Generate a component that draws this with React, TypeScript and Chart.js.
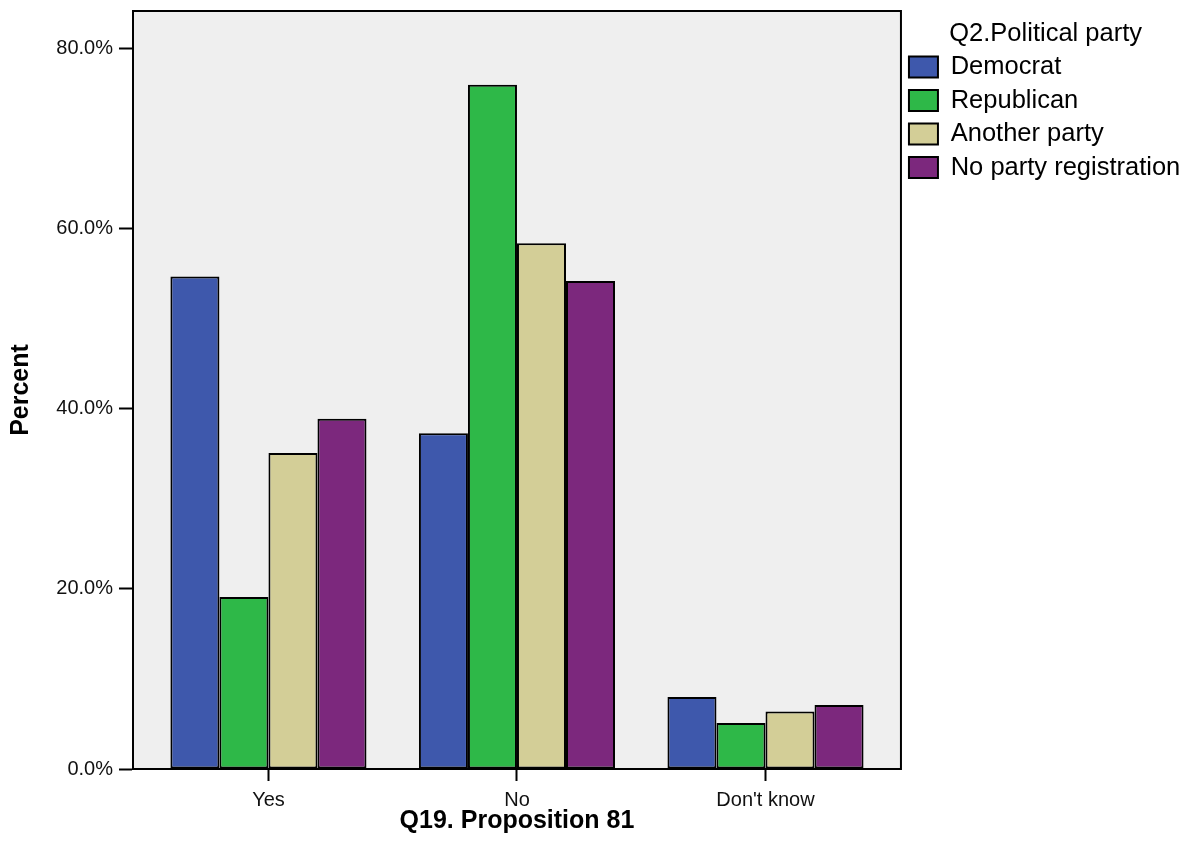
import React, { useEffect, useRef } from 'react';
import { Chart, registerables } from 'chart.js';

Chart.register(...registerables);

// ---- Data ----
const categories = ['Yes', 'No', "Don't know"];
const seriesNames = ['Democrat', 'Republican', 'Another party', 'No party registration'];
const democrat = [54.7, 37.3, 8.0];
const republican = [19.1, 76.0, 5.1];
const anotherParty = [35.1, 58.4, 6.4];
const noParty = [38.9, 54.2, 7.1];
const seriesColors = ['#3E58AC', '#2EB848', '#D3CE97', '#7C287D'];
const yTicks = [0, 20, 40, 60, 80];
const legendTitle = 'Q2.Political party';
const xTitle = 'Q19. Proposition 81';
const yTitle = 'Percent';

const FONT = "'Liberation Sans', Arial, Helvetica, sans-serif";

const framePlugin = {
  id: 'frame',
  beforeDraw(chart: any) {
    const { ctx, chartArea: a, width, height } = chart;
    ctx.save();
    ctx.fillStyle = '#ffffff';
    ctx.fillRect(0, 0, width, height);
    ctx.fillStyle = '#EFEFEF';
    ctx.fillRect(a.left, a.top, a.right - a.left, a.bottom - a.top);
    ctx.restore();
  },
  afterDatasetsDraw(chart: any) {
    const { ctx, chartArea: a } = chart;
    ctx.save();
    ctx.strokeStyle = '#000000';
    ctx.lineWidth = 2;
    ctx.strokeRect(a.left, a.top, a.right - a.left, a.bottom - a.top);
    ctx.restore();
  },
};

export default function App() {
  const canvasRef = useRef<HTMLCanvasElement | null>(null);

  useEffect(() => {
    document.body.style.margin = '0';
    const canvas = canvasRef.current;
    if (!canvas) return;
    const allSeries = [democrat, republican, anotherParty, noParty];
    const chart = new Chart(canvas, {
      type: 'bar',
      data: {
        datasets: allSeries.map((vals, si) => ({
          label: seriesNames[si],
          data: categories.map((_, i) => ({ x: i, y: vals[i] })),
          backgroundColor: seriesColors[si],
          borderColor: '#000000',
          borderWidth: 2,
          borderSkipped: false,
          categoryPercentage: 0.789,
          barPercentage: 1,
        })),
      },
      options: {
        responsive: false,
        animation: false,
        events: [],
        layout: { padding: { top: 11, right: 6.7, left: 0, bottom: 0 } },
        plugins: {
          tooltip: { enabled: false },
          legend: {
            position: 'right',
            align: 'start',
            title: {
              display: true,
              text: legendTitle,
              color: '#000',
              font: { family: FONT, size: 25.5, lineHeight: 1 },
              padding: { top: 9.75, bottom: 0 },
            },
            labels: {
              boxWidth: 29,
              boxHeight: 21,
              padding: 8,
              color: '#000',
              font: { family: FONT, size: 25.5 },
            },
          },
        },
        scales: {
          x: {
            type: 'linear',
            offset: false,
            min: -0.545,
            max: 2.545,
            afterBuildTicks: (s: any) => {
              s.ticks = categories.map((_, i) => ({ value: i }));
            },
            afterFit: (s: any) => {
              s.height = 85;
              s.paddingLeft = 0;
              s.paddingRight = 0;
            },
            grid: {
              offset: false,
              drawOnChartArea: false,
              drawTicks: true,
              tickLength: 12,
              tickWidth: 2,
              tickColor: '#000',
            },
            border: { display: true, color: '#000', width: 2 },
            ticks: {
              padding: 7,
              color: '#111',
              autoSkip: false,
              maxRotation: 0,
              font: { family: FONT, size: 20 },
              callback: (v: any) => categories[v] ?? '',
            },
            title: {
              display: true,
              text: xTitle,
              color: '#000',
              font: { family: FONT, size: 25, weight: 'bold' },
              padding: { top: 0, bottom: 18 },
            },
          },
          y: {
            type: 'linear',
            min: 0,
            max: 84.2,
            afterBuildTicks: (s: any) => {
              s.ticks = yTicks.map((v) => ({ value: v }));
            },
            afterFit: (s: any) => {
              s.width = 133;
              s.paddingTop = 0;
              s.paddingBottom = 0;
            },
            grid: {
              drawOnChartArea: false,
              drawTicks: true,
              tickLength: 14,
              tickWidth: 2,
              tickColor: '#000',
            },
            border: { display: true, color: '#000', width: 2 },
            ticks: {
              padding: 6,
              color: '#111',
              font: { family: FONT, size: 20 },
              callback: (v: any) => Number(v).toFixed(1) + '%',
            },
            title: {
              display: true,
              text: yTitle,
              color: '#000',
              font: { family: FONT, size: 25, weight: 'bold' },
              padding: { top: 6, bottom: 0 },
            },
          },
        },
      } as any,
      plugins: [framePlugin],
    });
    return () => chart.destroy();
  }, []);

  return (
    <div style={{ width: 1197, height: 854 }}>
      <canvas ref={canvasRef} width={1197} height={854} style={{ display: 'block' }} />
    </div>
  );
}
